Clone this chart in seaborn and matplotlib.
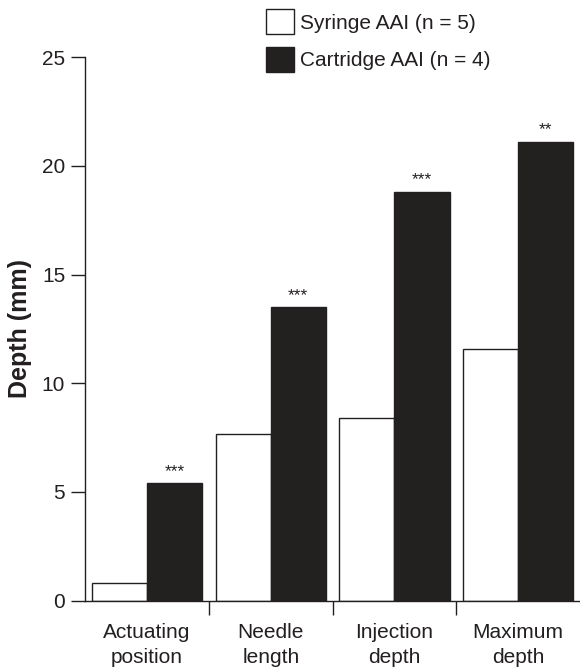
import pandas as pd
import matplotlib
matplotlib.use("Agg")
import matplotlib.pyplot as plt
import seaborn as sns
from matplotlib.ticker import FixedLocator

measures = ["Actuating\nposition", "Needle\nlength", "Injection\ndepth", "Maximum\ndepth"]
syringe = [0.82, 7.65, 8.41, 11.58]
cartridge = [5.39, 13.51, 18.82, 21.12]
significance = ["***", "***", "***", "**"]
devices = ["Syringe AAI (n = 5)", "Cartridge AAI (n = 4)"]

df = pd.DataFrame({
    "Measure": measures * 2,
    "Depth": syringe + cartridge,
    "Device": [devices[0]] * len(measures) + [devices[1]] * len(measures),
})

ink = "#231f20"

sns.set_style("ticks")
plt.rcParams["font.family"] = ["Liberation Sans", "DejaVu Sans"]
plt.rcParams["text.color"] = ink
plt.rcParams["axes.labelcolor"] = ink
plt.rcParams["xtick.color"] = ink
plt.rcParams["ytick.color"] = ink

fig = plt.figure(figsize=(5.8, 6.71), dpi=100)
ax = fig.add_axes([85.3 / 580, 1 - 600.5 / 671, 1 - 85.3 / 580, (600.5 - 57.3) / 671])

sns.barplot(data=df, x="Measure", y="Depth", hue="Device",
            palette={devices[0]: "white", devices[1]: ink},
            width=0.89, edgecolor=ink, linewidth=1.0, ax=ax)

ax.set_xlim(-0.5, 3.5)
ax.set_ylim(0, 25)
ax.set_yticks([0, 5, 10, 15, 20, 25])
ax.set_xlabel("")
ax.set_ylabel("Depth (mm)", fontsize=18, fontweight="bold", labelpad=7)

for side in ["top", "right"]:
    ax.spines[side].set_visible(False)
for side in ["left", "bottom"]:
    ax.spines[side].set_linewidth(1.0)
    ax.spines[side].set_color(ink)

ax.tick_params(axis="y", direction="out", length=10, width=1.0, labelsize=15, pad=4.5)
ax.tick_params(axis="x", which="major", length=0, labelsize=15, pad=16.5)
ax.xaxis.set_minor_locator(FixedLocator([0.5, 1.5, 2.5]))
ax.tick_params(axis="x", which="minor", direction="out", length=10, width=1.0)
for lbl in ax.get_xticklabels():
    lbl.set_linespacing(1.35)

# significance stars above the cartridge bars
for bar, star in zip(ax.containers[1], significance):
    ax.annotate(star, (bar.get_x() + bar.get_width() / 2, bar.get_height()),
                xytext=(0, 3), textcoords="offset points",
                ha="center", va="bottom", fontsize=12.5, color=ink)

handles, labels = ax.get_legend_handles_labels()
ax.legend(handles, labels, loc="upper left",
          bbox_to_anchor=(266 / 580, 1 - 9 / 671), bbox_transform=fig.transFigure,
          frameon=False, fontsize=15, handlelength=1.35, handleheight=1.5,
          handletextpad=0.3, labelspacing=0.6, borderpad=0, borderaxespad=0)

fig.savefig("out.png", dpi=100)
